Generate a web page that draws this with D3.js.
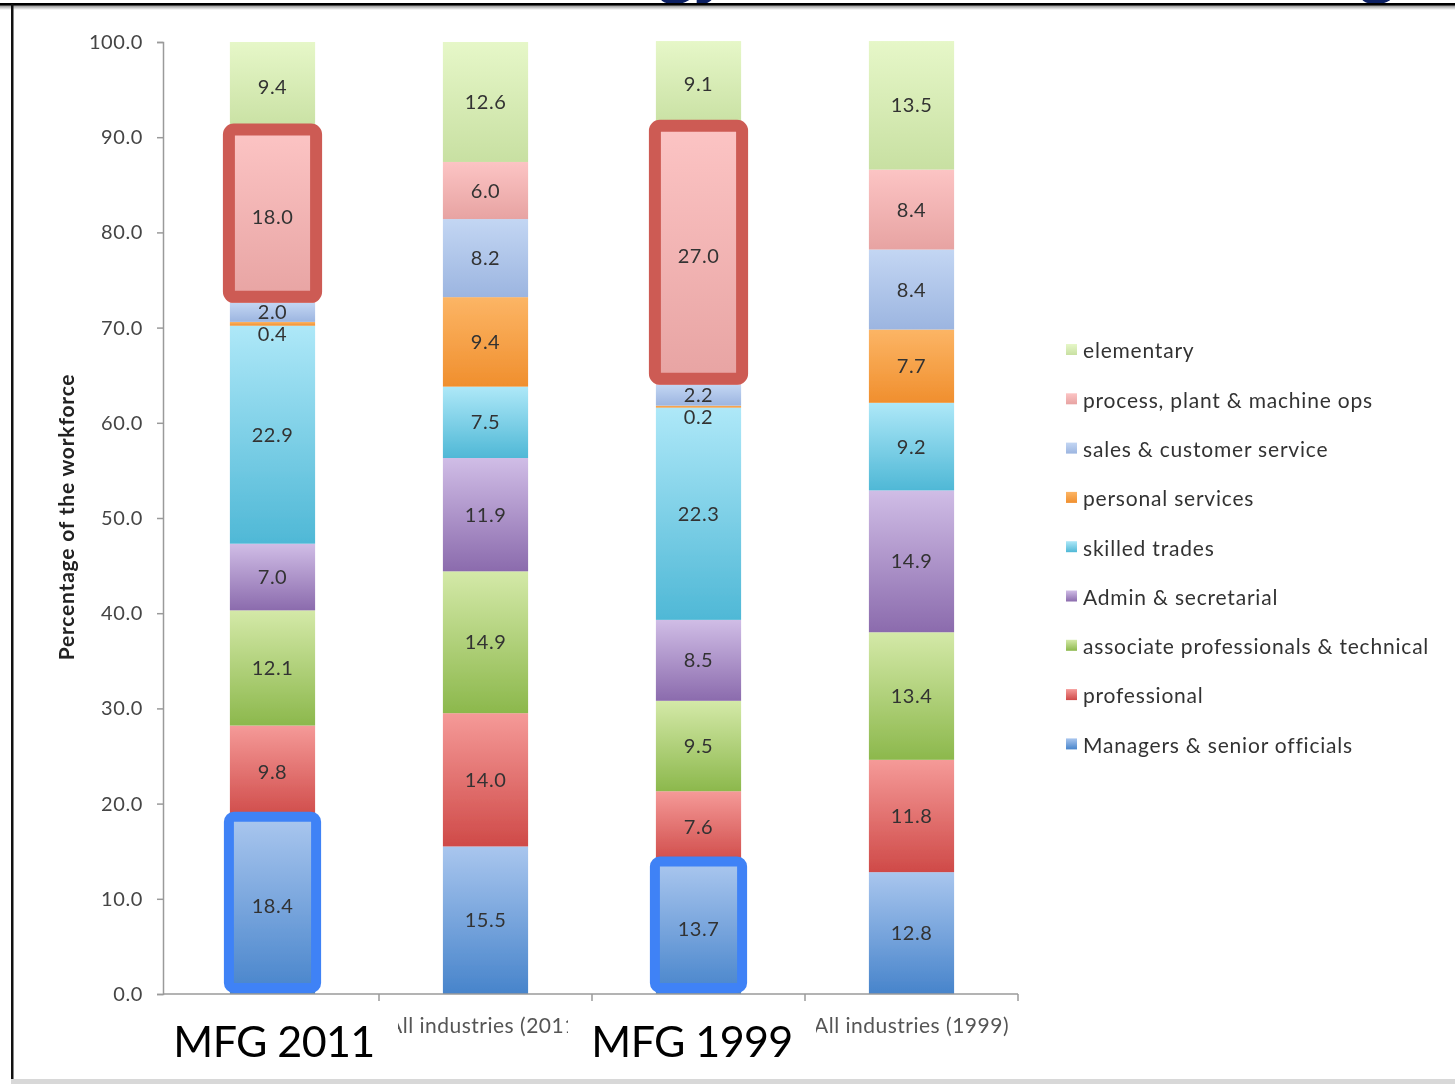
<!DOCTYPE html>
<html>
<head>
<meta charset="utf-8">
<script src="https://cdn.jsdelivr.net/npm/d3@7"></script>
<style>
  html, body { margin: 0; padding: 0; background: #fff; }
  svg { display: block; }
</style>
</head>
<body>
<svg id="chart" width="1455" height="1084"></svg>
<script>
// Occupational groups, bottom of each stack first
const seriesKeys = [
  "Managers & senior officials",
  "professional",
  "associate professionals & technical",
  "Admin & secretarial",
  "skilled trades",
  "personal services",
  "sales & customer service",
  "process, plant & machine ops",
  "elementary"
];

const categories = [
  "Manufacturing (2011)",
  "All industries (2011)",
  "Manufacturing (1999)",
  "All industries (1999)"
];

// Share of the workforce (%) per category, in seriesKeys order
const mfg2011 = [18.4, 9.8, 12.1, 7.0, 22.9, 0.4, 2.0, 18.0, 9.4];
const all2011 = [15.5, 14.0, 14.9, 11.9, 7.5, 9.4, 8.2, 6.0, 12.6];
const mfg1999 = [13.7, 7.6, 9.5, 8.5, 22.3, 0.2, 2.2, 27.0, 9.1];
const all1999 = [12.8, 11.8, 13.4, 14.9, 9.2, 7.7, 8.4, 8.4, 13.5];

const yTicks = [0, 10, 20, 30, 40, 50, 60, 70, 80, 90, 100];

// Short names written over the manufacturing column labels
const callouts = [
  { category: "Manufacturing (2011)", text: "MFG 2011" },
  { category: "Manufacturing (1999)", text: "MFG 1999" }
];

// Segments outlined for emphasis
const highlights = [
  { category: "Manufacturing (2011)", key: "process, plant & machine ops", kind: "red" },
  { category: "Manufacturing (1999)", key: "process, plant & machine ops", kind: "red" },
  { category: "Manufacturing (2011)", key: "Managers & senior officials", kind: "blue" },
  { category: "Manufacturing (1999)", key: "Managers & senior officials", kind: "blue" }
];

// Fill gradients (top colour, bottom colour) per group
const palette = {
  "elementary": ["#e6f7c8", "#c8e0a2"],
  "process, plant & machine ops": ["#fcc4c4", "#e7a3a2"],
  "sales & customer service": ["#c3d6f3", "#9cb5e0"],
  "personal services": ["#fcb565", "#f08f2e"],
  "skilled trades": ["#aee8f8", "#4fb8d6"],
  "Admin & secretarial": ["#d0bde6", "#8b6bad"],
  "associate professionals & technical": ["#d4e9a8", "#8cb84c"],
  "professional": ["#f59a98", "#cf4a48"],
  "Managers & senior officials": ["#a9c6ee", "#4784cb"]
};

const FONT = "Lato, 'Open Sans', sans-serif";

const rows = categories.map((c, i) => {
  const vals = [mfg2011, all2011, mfg1999, all1999][i];
  const r = { category: c };
  seriesKeys.forEach((k, j) => r[k] = vals[j]);
  return r;
});

const svg = d3.select("#chart");
const defs = svg.append("defs");

defs.append("filter").attr("id", "soft")
  .append("feGaussianBlur").attr("stdDeviation", 0.55);

seriesKeys.forEach((k, i) => {
  const g = defs.append("linearGradient")
    .attr("id", "grad" + i).attr("x1", 0).attr("y1", 0).attr("x2", 0).attr("y2", 1);
  g.append("stop").attr("offset", "0%").attr("stop-color", palette[k][0]);
  g.append("stop").attr("offset", "100%").attr("stop-color", palette[k][1]);
});

const plotLeft = 163, plotRight = 1018;

const x = d3.scaleBand()
  .domain(categories)
  .range([166, plotRight])
  .paddingInner(0.6)
  .paddingOuter(0.3);

const y = d3.scaleLinear().domain([0, 100]).range([994, 42]);

const stacked = d3.stack().keys(seriesKeys)(rows);

const chart = svg.append("g").attr("filter", "url(#soft)");

// Stacked bars
const layers = chart.selectAll("g.layer")
  .data(stacked)
  .join("g")
  .attr("class", "layer")
  .attr("fill", (d, i) => `url(#grad${i})`);

layers.selectAll("rect")
  .data(d => d.map(s => ({ s, key: d.key })))
  .join("rect")
  .attr("x", d => x(d.s.data.category))
  .attr("width", x.bandwidth())
  .attr("y", d => y(d.s[1]))
  .attr("height", d => Math.max(0, y(d.s[0]) - y(d.s[1])));

// Value labels (very thin segments get their label nudged below)
layers.selectAll("text")
  .data(d => d.map(s => ({ s, key: d.key })))
  .join("text")
  .attr("x", d => x(d.s.data.category) + x.bandwidth() / 2)
  .attr("y", d => (y(d.s[0]) + y(d.s[1])) / 2 + ((d.s[1] - d.s[0]) < 1 ? 10 : 0))
  .attr("dy", "0.35em")
  .attr("text-anchor", "middle")
  .attr("fill", "#333")
  .style("font-family", FONT)
  .style("font-size", "20px")
  .style("letter-spacing", "0.5px")
  .text(d => (d.s[1] - d.s[0]).toFixed(1));

// Y axis
const yAxis = chart.append("g")
  .attr("transform", `translate(${plotLeft},0)`)
  .call(d3.axisLeft(y).tickValues(yTicks).tickFormat(d3.format(".1f")).tickSize(6).tickPadding(14));
yAxis.select(".domain").attr("stroke", "#9a9a9a").attr("stroke-width", 1.5);
yAxis.selectAll(".tick line").attr("stroke", "#9a9a9a").attr("stroke-width", 1.5);
yAxis.selectAll(".tick text")
  .attr("fill", "#444")
  .style("font-family", FONT)
  .style("font-size", "20px")
  .style("letter-spacing", "0.6px");

// X axis: labels under each column, ticks between columns
const calloutCats = callouts.map(c => c.category);
const xAxis = chart.append("g")
  .attr("transform", "translate(0,994)")
  .call(d3.axisBottom(x).tickSize(0).tickPadding(24)
    .tickFormat(c => calloutCats.includes(c) ? "" : c));
xAxis.select(".domain").remove();
xAxis.append("line")
  .attr("x1", plotLeft).attr("x2", plotRight)
  .attr("stroke", "#9a9a9a").attr("stroke-width", 1.5);
xAxis.selectAll(".tick text")
  .attr("fill", "#555")
  .style("font-family", FONT)
  .style("font-size", "21px")
  .style("letter-spacing", "0.5px");
const step = x.step();
const x0 = x.range()[0];
xAxis.selectAll("line.sep")
  .data(d3.range(1, categories.length + 1))
  .join("line")
  .attr("class", "sep")
  .attr("x1", i => x0 + i * step).attr("x2", i => x0 + i * step)
  .attr("y1", 0).attr("y2", 7)
  .attr("stroke", "#9a9a9a").attr("stroke-width", 1.5);

// Y axis title
chart.append("text")
  .attr("transform", `translate(74,${(y(0) + y(100)) / 2 - 1}) rotate(-90)`)
  .attr("text-anchor", "middle")
  .attr("fill", "#222")
  .style("font-family", FONT)
  .style("font-weight", "bold")
  .style("font-size", "21px")
  .style("letter-spacing", "0.8px")
  .text("Percentage of the workforce");

// Legend, top group first
const legendKeys = seriesKeys.slice().reverse();
const legend = chart.append("g").attr("transform", "translate(1066,351)");
const li = legend.selectAll("g")
  .data(legendKeys)
  .join("g")
  .attr("transform", (d, i) => `translate(0,${i * 49.3})`);
li.append("rect")
  .attr("x", 0).attr("y", -7).attr("width", 11).attr("height", 11)
  .attr("fill", d => `url(#grad${seriesKeys.indexOf(d)})`);
li.append("text")
  .attr("x", 17).attr("y", 0).attr("dy", "0.35em")
  .attr("fill", "#333")
  .style("font-family", FONT)
  .style("font-size", "21px")
  .style("letter-spacing", "0.8px")
  .text(d => d);

// Emphasis outlines
const segOf = (cat, key) => {
  const layer = stacked.find(l => l.key === key);
  return layer[categories.indexOf(cat)];
};
const outlineStyle = { red: { color: "#cd5b54", width: 12 }, blue: { color: "#3f82f6", width: 10 } };
svg.append("g").selectAll("rect")
  .data(highlights)
  .join("rect")
  .attr("x", d => x(d.category) - 1)
  .attr("width", x.bandwidth() + 2)
  .attr("y", d => y(segOf(d.category, d.key)[1]) - 2)
  .attr("height", d => y(segOf(d.category, d.key)[0]) - y(segOf(d.category, d.key)[1]) - 4)
  .attr("rx", 5)
  .attr("fill", "none")
  .attr("stroke", d => outlineStyle[d.kind].color)
  .attr("stroke-width", d => outlineStyle[d.kind].width);

// Large short names on white patches below the manufacturing columns
const callCentre = (d, i) => x(d.category) + x.bandwidth() / 2 + (i ? -6.5 : 1.5);
const call = svg.append("g");
call.selectAll("rect")
  .data(callouts)
  .join("rect")
  .attr("x", (d, i) => callCentre(d, i) - 124)
  .attr("y", 1004)
  .attr("width", 248)
  .attr("height", 68)
  .attr("fill", "#fff");
call.selectAll("text")
  .data(callouts)
  .join("text")
  .attr("x", callCentre)
  .attr("y", 1057)
  .attr("text-anchor", "middle")
  .attr("fill", "#000")
  .style("font-family", FONT)
  .style("font-size", "43px")
  .style("letter-spacing", "-0.6px")
  .text(d => d.text);

// Slide heading (sits above the visible area, only its descenders show) and frame
const head = svg.append("g")
  .attr("fill", "#0c2064")
  .style("font-family", "'Open Sans', sans-serif")
  .style("font-weight", "bold")
  .style("font-size", "64px");
head.append("text").attr("x", 731).attr("y", -12).attr("text-anchor", "end").text("Technology");
head.append("text").attr("x", 1396).attr("y", -12).attr("text-anchor", "end").text("and manufacturing");

const shade = defs.append("linearGradient").attr("id", "shade").attr("x1", 0).attr("y1", 0).attr("x2", 0).attr("y2", 1);
shade.append("stop").attr("offset", "0%").attr("stop-color", "#888");
shade.append("stop").attr("offset", "100%").attr("stop-color", "#fff");
svg.append("rect").attr("x", 0).attr("y", 5).attr("width", 1455).attr("height", 5).attr("fill", "url(#shade)");
svg.append("rect").attr("x", 0).attr("y", 3).attr("width", 1455).attr("height", 2.5).attr("fill", "#000");
svg.append("rect").attr("x", 11).attr("y", 4).attr("width", 2.5).attr("height", 1076).attr("fill", "#111");
svg.append("rect").attr("x", 11).attr("y", 1079).attr("width", 1444).attr("height", 5).attr("fill", "#d8d8d8");
</script>
</body>
</html>
